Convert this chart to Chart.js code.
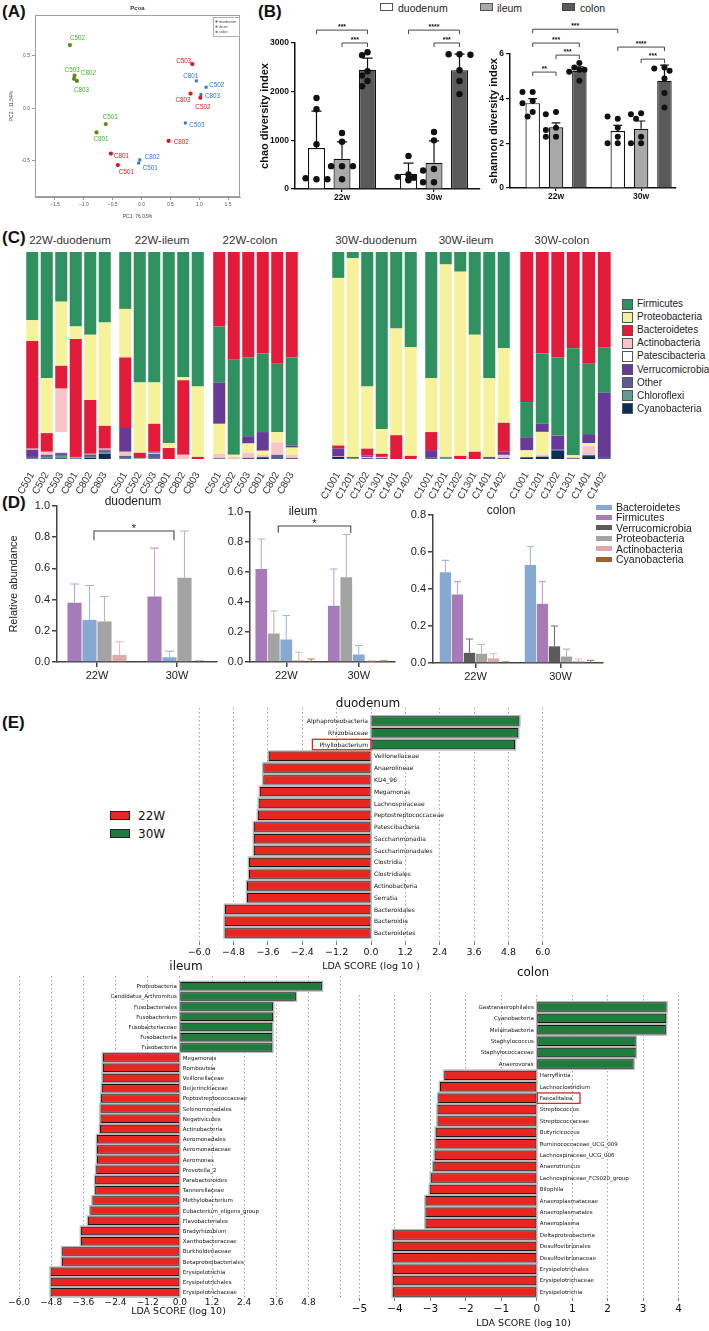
<!DOCTYPE html>
<html><head><meta charset="utf-8">
<script src="https://cdn.jsdelivr.net/npm/chart.js@4.4.1/dist/chart.umd.min.js"></script>
<style>
html,body{margin:0;padding:0;background:#fff;}
body{position:relative;width:709px;height:1331px;overflow:hidden;font-family:"Liberation Sans",Arial,sans-serif;color:#222;}
canvas{position:absolute;}
.t{position:absolute;white-space:nowrap;line-height:1;}
.sw{position:absolute;box-sizing:border-box;}
</style></head><body>
<script>
// ================= DATA =================
// (A) PCoA
const pcoaDuoNames=['C503','C803','C502','C802','C801','C501'];
const pcoaDuoPC1=[0.88,0.85,1.02,0.47,-0.53,-0.41];
const pcoaDuoPC2=[0.42,0.14,0.10,-0.31,-0.43,-0.54];
const pcoaIleNames=['C801','C502','C803','C503','C802','C501'];
const pcoaIlePC1=[0.95,1.12,1.03,0.76,-0.03,-0.05];
const pcoaIlePC2=[0.26,0.20,0.13,-0.14,-0.49,-0.52];
const pcoaColNames=['C502','C503','C803','C802','C501','C801'];
const pcoaColPC1=[-1.24,-1.16,-1.17,-1.12,-0.62,-0.78];
const pcoaColPC2=[0.60,0.31,0.28,0.26,-0.15,-0.23];
const pcoaXTicks=[-1.5,-1.0,-0.5,0.0,0.5,1.0,1.5];
const pcoaYTicks=[-0.5,0.0,0.5];

// (B) alpha diversity
const divGroups=['22w','30w'];
const divTissues=['duodenum','ileum','colon'];
const chaoDuodenum=[840,310], chaoIleum=[620,540], chaoColon=[2450,2440];
const chaoSdDuodenum=[760,220], chaoSdIleum=[350,450], chaoSdColon=[240,330];
const chaoPtsDuodenum=[[1870,1640,920,200,220,200],[680,300,250,230,200,180]];
const chaoPtsIleum=[[1150,970,470,470,470,200],[1170,1000,410,380,140,140]];
const chaoPtsColon=[[2810,2750,2420,2330,2220,2110],[2770,2770,2760,2440,2220,1950]];
const chaoTicks=[0,1000,2000,3000];
const shanDuodenum=[3.8,2.55], shanIleum=[2.72,2.65], shanColon=[5.25,4.8];
const shanSdDuodenum=[0.2,0.25], shanSdIleum=[0.2,0.35], shanSdColon=[0.18,0.7];
const shanPtsDuodenum=[[4.3,4.3,3.9,3.8,3.4,3.2],[3.1,3.2,2.7,2.0,2.0,2.3]];
const shanPtsIleum=[[3.4,3.3,2.7,2.6,2.3,2.3],[3.35,3.3,3.1,2.3,2.0,2.0]];
const shanPtsColon=[[5.6,5.4,5.3,5.2,5.3,4.8],[5.4,5.35,5.25,4.9,4.25,3.6]];
const shanTicks=[0,2,4,6];
const chaoSig=[{ga:0,a:0,gb:0,b:2,y:3265,s:'***'},{ga:0,a:1,gb:0,b:2,y:3000,s:'***'},{ga:1,a:0,gb:1,b:2,y:3265,s:'****'},{ga:1,a:1,gb:1,b:2,y:3000,s:'***'}];
const shanSig=[{ga:0,a:0,gb:1,b:0,y:7.11,s:'***'},{ga:0,a:0,gb:0,b:2,y:6.49,s:'***'},{ga:0,a:1,gb:0,b:2,y:5.95,s:'***'},{ga:0,a:0,gb:0,b:1,y:5.19,s:'**'},{ga:1,a:0,gb:1,b:2,y:6.31,s:'****'},{ga:1,a:1,gb:1,b:2,y:5.77,s:'***'}];

// (C) phylum composition (%), 6 groups x 6 samples
const cGroupNames=['22W-duodenum','22W-ileum','22W-colon','30W-duodenum','30W-ileum','30W-colon'];
const cSamples22=['C501','C502','C503','C801','C802','C803'];
const cSamples30=['C1001','C1201','C1202','C1301','C1401','C1402'];
const firmicutes=[33,61,24,36,40,34, 27.5,63,63,92.3,60.5,65, 27,46,38,38,33,42.5, 12.5,3,65,85.5,37,46, 61,6,9.5,40,61,46.5, 17,34,37.7,51.7,34,22];
const proteobacteria=[10,26.5,31,6,31.5,50, 23.5,34,20,2.4,1.5,34, 14.5,1,4.5,2,5,3.5, 81,96,30,12,51.5,52.5, 26,93,89,56.5,38,36, 3.4,11,0,0.8,1.5,0];
const bacteroidetes=[52,9,11,57,26,11, 34,2.5,13.5,5.3,36,1, 36,52,51,49,54,51, 1.5,0,3.4,1.5,11.5,1.5, 8.7,0,1.5,3.5,0,14, 72.5,49,51,46.5,54,46];
const actinobacteria=[0.5,1.5,21,0.3,0.3,0.5, 2,0.2,0.5,0,2,0, 2,1,2.4,1,6,1.5, 0.2,0,0.5,0.5,0,0, 0,0,0,0,0,1.5, 0,1,0,0.6,4.3,0];
const patescibacteria=[0,0,10,0,0,0, 0,0,0,0,0,0, 0,0,0,0,0,0, 0,0,0,0,0,0, 0,0,0,0,0,0, 0,0,0,0,0,0];
const verrucomicrobia=[3.5,0.5,0.5,0.2,0.2,0.5, 11.5,0,0.5,0,0,0, 20,0,3.5,9,0,1, 3.8,0,0.6,0,0,0, 3.4,0,0,0,0,1.5, 6.3,3.9,6.8,0,4.3,31];
const otherPhyla=[0.5,0.5,1,0.3,1,1, 1,0.2,2,0,0,0, 0.3,0,0.6,0.5,2,0.5, 0,0.5,0.5,0.5,0,0, 0.9,0,0,0,1,0.5, 0,0,0.6,0.4,0.5,1];
const chloroflexi=[0.3,0.7,1.2,0.1,0.5,0.5, 0.3,0.1,0.3,0,0,0, 0.1,0,0,0,0,0, 0,0.5,0,0,0,0, 0,1,0,0,0,0, 0,0,0,0,0,0];
const cyanobacteria=[0.2,0.3,0.3,0.1,0.5,2.5, 0.2,0,0.2,0,0,0, 0.1,0,0,0.5,0,0, 1,0,0,0,0,0, 0,0,0,0,0,0, 0.8,1.1,3.9,0,1.4,0];
const phylumLegend=['Firmicutes','Proteobacteria','Bacteroidetes','Actinobacteria','Patescibacteria','Verrucomicrobia','Other','Chloroflexi','Cyanobacteria'];

// (D) relative abundance
const dGroups=['22W','30W'];
const dDuoFirm=[0.38,0.42], dDuoFirmErr=[0.12,0.31];
const dDuoBact=[0.27,0.03], dDuoBactErr=[0.22,0.04];
const dDuoProt=[0.26,0.54], dDuoProtErr=[0.16,0.30];
const dDuoActi=[0.045,0.005], dDuoActiErr=[0.085,0.005];
const dIleFirm=[0.62,0.375], dIleFirmErr=[0.20,0.245];
const dIleProt=[0.19,0.565], dIleProtErr=[0.15,0.285];
const dIleBact=[0.15,0.05], dIleBactErr=[0.16,0.06];
const dIleActi=[0.012,0.004], dIleActiErr=[0.053,0.004];
const dIleCyan=[0.004,0.003], dIleCyanErr=[0.016,0.005];
const dColBact=[0.49,0.53], dColBactErr=[0.065,0.10];
const dColFirm=[0.37,0.32], dColFirmErr=[0.07,0.12];
const dColVerr=[0.055,0.09], dColVerrErr=[0.075,0.11];
const dColProt=[0.05,0.035], dColProtErr=[0.05,0.04];
const dColActi=[0.025,0.01], dColActiErr=[0.025,0.012];
const dColCyan=[0.004,0.004], dColCyanErr=[0.003,0.01];
const dLegend=['Bacteroidetes','Firmicutes','Verrucomicrobia','Proteobacteria','Actinobacteria','Cyanobacteria'];

// (E) LEfSe LDA scores
const duoLdaNames=['Alphaproteobacteria','Rhizobiaceae','Phyllobacterium','Veillonellaceae','Anaerolineae','KD4_96','Megamonas','Lachnospiraceae','Peptostreptococcaceae','Patescibacteria','Saccharimonadia','Saccharimonadales','Clostridia','Clostridiales','Actinobacteria','Serratia','Bacteroidales','Bacteroidia','Bacteroidetes'];
const duoLdaScores=[5.18,5.14,5.03,-3.57,-3.76,-3.76,-3.88,-3.92,-3.95,-4.09,-4.09,-4.09,-4.26,-4.26,-4.33,-4.33,-5.10,-5.11,-5.11];
const ileLdaNames=['Proteobacteria','Candidatus_Arthromitus','Fusobacteriales','Fusobacterium','Fusobacteriaceae','Fusobacteriia','Fusobacteria','Megamonas','Romboutsia','Veillonellaceae','Beijerinckiaceae','Peptostreptococcaceae','Selenomonadales','Negativicutes','Actinobacteria','Aeromonadales','Aeromonadaceae','Aeromonas','Prevotella_2','Parabacteroides','Tannerellaceae','Methylobacterium','Eubacterium_eligens_group','Flavobacteriales','Bradyrhizobium','Xanthobacteraceae','Burkholderiaceae','Betaproteobacteriales','Erysipelotrichia','Erysipelotrichales','Erysipelotrichaceae'];
const ileLdaScores=[5.30,4.33,3.48,3.48,3.45,3.45,3.45,-2.87,-2.87,-2.88,-2.91,-2.94,-2.96,-2.96,-2.98,-3.09,-3.09,-3.09,-3.12,-3.16,-3.16,-3.26,-3.34,-3.43,-3.69,-3.69,-4.39,-4.40,-4.82,-4.82,-4.82];
const colLdaNames=['Gastranaerophilales','Cyanobacteria','Melainabacteria','Staphylococcus','Staphylococcaceae','Anaerovorax','Harryflintia','Lachnoclostridium','Faecalitalea','Streptococcus','Streptococcaceae','Butyricicoccus','Ruminococcaceae_UCG_009','Lachnospiraceae_UCG_006','Anaerotruncus','Lachnospiraceae_FCS020_group','Bilophila','Anaeroplasmataceae','Anaeroplasmatales','Anaeroplasma','Deltaproteobacteria','Desulfovibrionales','Desulfovibrionaceae','Erysipelotrichales','Erysipelotrichaceae','Erysipelotrichia'];
const colLdaScores=[3.66,3.65,3.64,2.79,2.79,2.73,-2.61,-2.73,-2.78,-2.80,-2.80,-2.85,-2.86,-2.88,-2.92,-2.99,-3.02,-3.14,-3.14,-3.14,-4.06,-4.06,-4.06,-4.06,-4.06,-4.06];
const ldaTicks12=[-6.0,-4.8,-3.6,-2.4,-1.2,0.0,1.2,2.4,3.6,4.8,6.0];
const ldaTicksColon=[-5,-4,-3,-2,-1,0,1,2,3,4];
const ldaClasses=['22W','30W'];

// ================= STYLE / HELPERS =================
const SANS='"Liberation Sans", Arial, sans-serif';
const DEJA='"DejaVu Sans", sans-serif';
Chart.defaults.font.family=SANS;
Chart.defaults.color='#222';
Chart.defaults.animation=false;
Chart.defaults.responsive=false;
Chart.defaults.devicePixelRatio=1;
Chart.defaults.events=[];
Chart.defaults.plugins.legend.display=false;
Chart.defaults.plugins.tooltip.enabled=false;

function mk(L,T,W,H){const c=document.createElement('canvas');c.width=W;c.height=H;c.style.left=L+'px';c.style.top=T+'px';c.style.width=W+'px';c.style.height=H+'px';document.body.appendChild(c);return c;}
const fix=n=>s=>{if(s.isHorizontal())s.height=n;else s.width=n;s.paddingLeft=0;s.paddingRight=0;s.paddingTop=0;s.paddingBottom=0;};
function txt(s,x,y,css,anchor){const d=document.createElement('div');d.className='t';d.textContent=s;const tx=anchor==='l'?'0':anchor==='r'?'-100%':'-50%';d.style.cssText=`left:${x}px;top:${y}px;transform:translate(${tx},-50%);`+(css||'');document.body.appendChild(d);return d;}
function box(x,y,w,h,bg,border){const d=document.createElement('div');d.className='sw';d.style.cssText=`left:${x}px;top:${y}px;width:${w}px;height:${h}px;background:${bg};`+(border?`border:${border};`:'');document.body.appendChild(d);}
function minus(v,d){return (v<-1e-9?'\u2212':'')+Math.abs(v).toFixed(d);}
function setTicks(arr){return s=>{s.ticks=arr.map(v=>({value:v}));};}
function swarm(ys,r){const placed=[];return ys.map(y=>{for(const c of [0,-1,1,-2,2]){const dx=c*r*1.7;if(placed.every(p=>Math.hypot(p.dx-dx,p.y-y)>=r*1.9)){placed.push({dx,y});return dx;}}placed.push({dx:0,y});return 0;});}

// ================= PANEL LETTERS =================
const letterCss='font-weight:bold;font-size:17px;color:#111;';
txt('(A)',2,11,letterCss,'l');
txt('(B)',258,11,letterCss,'l');
txt('(C)',2,237,letterCss,'l');
txt('(D)',2,502,letterCss,'l');
txt('(E)',2,722,letterCss,'l');

// ================= (A) PCoA =================
const pcoaDefs=[
 {label:'duodenum',names:pcoaDuoNames,x:pcoaDuoPC1,y:pcoaDuoPC2,text:'#e3191c',point:'#d51a1c',style:'circle'},
 {label:'ileum',names:pcoaIleNames,x:pcoaIlePC1,y:pcoaIlePC2,text:'#2b78cf',point:'#2b78cf',style:'rect'},
 {label:'colon',names:pcoaColNames,x:pcoaColPC1,y:pcoaColPC2,text:'#3db52a',point:'#5e8a1c',style:'circle'}];
const pcoaLabelOffsets={duodenum:[[-16,-3],[-15,7],[-5,10],[5,1],[3,3],[1,7]],ileum:[[-13,-5],[3,-2],[4,2],[4,2],[5,-3],[4,5]],colon:[[0,-7],[-10,-5],[0,11],[4,-8],[-3,-7],[-3,7]]};
const pcoaPlugin={id:'pcoaX',afterDraw(chart){
 const {ctx,chartArea:a}=chart;ctx.save();
 ctx.strokeStyle='#a0a0a0';ctx.lineWidth=1;ctx.strokeRect(a.left+0.5,a.top+0.5,a.right-a.left-1,a.bottom-a.top-1);
 ctx.font='6.3px '+SANS;ctx.textBaseline='middle';ctx.textAlign='left';
 pcoaDefs.forEach((d,i)=>{const meta=chart.getDatasetMeta(i);ctx.fillStyle=d.text;meta.data.forEach((el,j)=>{const o=pcoaLabelOffsets[d.label][j];ctx.fillText(d.names[j],el.x+o[0],el.y+o[1]);});});
 ctx.fillStyle='#333';ctx.font='bold 6px '+SANS;ctx.textAlign='center';ctx.fillText('Pcoa',(a.left+a.right)/2,8);
 const lx=a.right-27,ly=a.top+2;ctx.fillStyle='#fff';ctx.fillRect(lx,ly,26,19);ctx.strokeStyle='#b0b0b0';ctx.strokeRect(lx+0.5,ly+0.5,26,19);
 ctx.font='3.6px '+SANS;ctx.textAlign='left';
 pcoaDefs.forEach((d,i)=>{ctx.fillStyle=d.point;ctx.beginPath();ctx.arc(lx+3.5,ly+4.5+i*5.2,1.1,0,Math.PI*2);ctx.fill();ctx.fillStyle='#444';ctx.fillText(d.label,lx+6,ly+4.6+i*5.2);});
 ctx.restore();}};
new Chart(mk(0,0,245,225),{type:'scatter',
 data:{datasets:pcoaDefs.map(d=>({label:d.label,data:d.x.map((v,i)=>({x:v,y:d.y[i]})),backgroundColor:d.point,borderColor:d.point,borderWidth:0,pointRadius:2.1,pointStyle:d.style}))},
 options:{layout:{padding:{top:15,right:5}},
  scales:{
   x:{type:'linear',min:-1.846,max:1.707,afterBuildTicks:setTicks(pcoaXTicks),afterFit:fix(28),
      ticks:{font:{size:5},color:'#555',padding:2,callback:v=>minus(v,1)},
      grid:{drawOnChartArea:false,tickLength:3,color:'#999'},border:{color:'#999'},
      title:{display:true,text:'PC1: 76.03%',font:{size:5},color:'#444',padding:{top:0,bottom:5}}},
   y:{type:'linear',min:-0.843,max:0.886,afterBuildTicks:setTicks(pcoaYTicks),afterFit:fix(35),
      ticks:{font:{size:5},color:'#555',padding:2,callback:v=>(v<0?'-':'')+Math.abs(v).toFixed(1)},
      grid:{drawOnChartArea:false,tickLength:3,color:'#999'},border:{color:'#999'},
      title:{display:true,text:'PC2 : 11.54%',font:{size:5},color:'#444',padding:{top:9,bottom:0}}}}},
 plugins:[pcoaPlugin]});

// ================= (B) diversity =================
box(380,3,13,8,'#fff','1.2px solid #555');txt('duodenum',398,7.5,'font-size:10.5px;','l');
box(480,3,13,8,'#a9a9a9','1.2px solid #555');txt('ileum',497,7.5,'font-size:10.5px;','l');
box(562,3,13,8,'#5a5a5a','1.2px solid #444');txt('colon',580,7.5,'font-size:10.5px;','l');
function divChart(cfg){
 const fills=['#ffffff','#a9a9a9','#5a5a5a'];
 const plugin={id:'divx',afterDatasetsDraw(chart){
  const ctx=chart.ctx,ys=chart.scales.y;ctx.save();ctx.strokeStyle='#111';ctx.fillStyle='#111';ctx.lineWidth=1.2;
  cfg.means.forEach((m,i)=>{chart.getDatasetMeta(i).data.forEach((bar,j)=>{
    const yt=ys.getPixelForValue(m[j]+cfg.sds[i][j]);const cw=bar.width*0.3;
    ctx.beginPath();ctx.moveTo(bar.x,bar.y);ctx.lineTo(bar.x,yt);ctx.moveTo(bar.x-cw,yt);ctx.lineTo(bar.x+cw,yt);ctx.stroke();
    const py=cfg.pts[i][j].map(v=>ys.getPixelForValue(v));const dx=swarm(py,cfg.r);
    py.forEach((y,k)=>{ctx.beginPath();ctx.arc(bar.x+dx[k],y,cfg.r,0,Math.PI*2);ctx.fill();});});});
  ctx.font='bold 7px '+SANS;ctx.textAlign='center';ctx.lineWidth=0.9;ctx.strokeStyle='#333';
  cfg.sig.forEach(s=>{const xa=chart.getDatasetMeta(s.a).data[s.ga].x,xb=chart.getDatasetMeta(s.b).data[s.gb].x,y=ys.getPixelForValue(s.y);
    ctx.beginPath();ctx.moveTo(xa,y+4);ctx.lineTo(xa,y);ctx.lineTo(xb,y);ctx.lineTo(xb,y+4);ctx.stroke();ctx.fillText(s.s,(xa+xb)/2,y-1.5);});
  ctx.restore();}};
 new Chart(mk(cfg.L,cfg.T,cfg.W,cfg.H),{type:'bar',
  data:{datasets:divTissues.map((t,i)=>({label:t,data:cfg.means[i].map((v,j)=>({x:j+1,y:v})),backgroundColor:fills[i],borderColor:'#111',borderWidth:1.2,categoryPercentage:cfg.cp,barPercentage:cfg.bp}))},
  options:{layout:{padding:{top:cfg.padTop,right:cfg.padRight}},
   scales:{
    x:{type:'linear',offset:false,min:cfg.xmin,max:cfg.xmax,afterBuildTicks:setTicks([1,2]),afterFit:fix(cfg.xh),
       grid:{offset:false,drawOnChartArea:false,tickLength:3,color:'#111',lineWidth:1.2},border:{color:'#111',width:1.5},
       ticks:{callback:v=>divGroups[v-1],font:{size:8.5,weight:'bold'},color:'#111',padding:1}},
    y:{min:0,max:cfg.ymax,afterBuildTicks:setTicks(cfg.yticks),afterFit:fix(cfg.yw),
       grid:{drawOnChartArea:false,tickLength:4,color:'#111',lineWidth:1.2},border:{color:'#111',width:1.5},
       ticks:{font:{size:8.5,weight:'bold'},color:'#111',padding:2,callback:v=>String(v)},
       title:{display:true,text:cfg.title,font:{size:11,weight:'bold'},color:'#111',padding:{top:cfg.titlePad,bottom:0}}}}},
  plugins:[plugin]});
}
divChart({L:255,T:20,W:230,H:190,padTop:23,padRight:5,yw:40,xh:21,xmin:0.489,xmax:2.5,ymax:3000,yticks:chaoTicks,cp:0.832,bp:0.667,r:3.2,
 means:[chaoDuodenum,chaoIleum,chaoColon],sds:[chaoSdDuodenum,chaoSdIleum,chaoSdColon],pts:[chaoPtsDuodenum,chaoPtsIleum,chaoPtsColon],sig:chaoSig,title:'chao diversity index',titlePad:3.4});
divChart({L:480,T:20,W:200,H:190,padTop:34,padRight:4,yw:30,xh:22,xmin:0.459,xmax:2.41,ymax:6,yticks:shanTicks,cp:0.823,bp:0.62,r:3,
 means:[shanDuodenum,shanIleum,shanColon],sds:[shanSdDuodenum,shanSdIleum,shanSdColon],pts:[shanPtsDuodenum,shanPtsIleum,shanPtsColon],sig:shanSig,title:'shannon diversity index',titlePad:7});

// ================= (C) stacked composition =================
const phylumSeries={Firmicutes:firmicutes,Proteobacteria:proteobacteria,Bacteroidetes:bacteroidetes,Actinobacteria:actinobacteria,Patescibacteria:patescibacteria,Verrucomicrobia:verrucomicrobia,Other:otherPhyla,Chloroflexi:chloroflexi,Cyanobacteria:cyanobacteria};
const phylumColors={Firmicutes:'#2f9160',Proteobacteria:'#f6f19b',Bacteroidetes:'#e31b3a',Actinobacteria:'#f7c4c7',Patescibacteria:'#ffffff',Verrucomicrobia:'#673a97',Other:'#5b5d98',Chloroflexi:'#5f9d94',Cyanobacteria:'#0d2c56'};
const orderDuo=['Firmicutes','Proteobacteria','Bacteroidetes','Actinobacteria','Patescibacteria','Verrucomicrobia','Other','Chloroflexi','Cyanobacteria'];
const orderIle=['Firmicutes','Proteobacteria','Bacteroidetes','Verrucomicrobia','Actinobacteria','Patescibacteria','Other','Chloroflexi','Cyanobacteria'];
const orderCol=['Bacteroidetes','Firmicutes','Verrucomicrobia','Proteobacteria','Actinobacteria','Patescibacteria','Other','Chloroflexi','Cyanobacteria'];
const cOrders=[orderDuo,orderIle,orderCol,orderIle,orderIle,orderCol];
const cBounds=[[24.75,111.75],[117.75,204.75],[211.75,298.75],[330.75,417.75],[423.7,511],[518.5,612]];
const cTitleX=[70,162,250,376,466,562];
cGroupNames.forEach((g,gi)=>{
 const [l,r]=cBounds[gi];
 txt(g,cTitleX[gi],241,'font-size:11.5px;color:#333;');
 const labels=(gi<3?cSamples22:cSamples30);
 new Chart(mk(l-25,250,r-l+30,262),{type:'bar',
  data:{labels,datasets:cOrders[gi].slice().reverse().map(p=>({label:p,data:phylumSeries[p].slice(gi*6,gi*6+6),backgroundColor:phylumColors[p],borderWidth:0,barPercentage:0.83,categoryPercentage:1}))},
  options:{layout:{padding:{left:25,right:5,top:2}},
   scales:{x:{stacked:true,afterFit:fix(53),grid:{display:false},border:{display:false},ticks:{autoSkip:false,minRotation:60,maxRotation:60,font:{size:10},color:'#333',padding:3}},
           y:{stacked:true,display:false,min:0,max:100}}}});
});
phylumLegend.forEach((p,i)=>{const y=304+13.1*i;box(622,y-5.5,11,11,phylumColors[p],'1px solid #555');txt(p,637,y,'font-size:10px;color:#222;','l');});

// ================= (D) relative abundance =================
const dColors={Bacteroidetes:'#86a8d3',Firmicutes:'#a67bb8',Verrucomicrobia:'#5b5b5b',Proteobacteria:'#a3a3a3',Actinobacteria:'#dcaaaa',Cyanobacteria:'#a0622b'};
const dErrColors={Bacteroidetes:'#9dbbe0',Firmicutes:'#c7a0d6',Verrucomicrobia:'#6e6e6e',Proteobacteria:'#b8b8b8',Actinobacteria:'#e6b8b8',Cyanobacteria:'#b88350'};
function dChart(cfg){
 const plugin={id:'dx',afterDatasetsDraw(chart){
  const ctx=chart.ctx,ys=chart.scales.y,xs=chart.scales.x;ctx.save();ctx.lineWidth=1.1;
  cfg.series.forEach((s,i)=>{ctx.strokeStyle=dErrColors[s.name];chart.getDatasetMeta(i).data.forEach((bar,j)=>{
    const yt=ys.getPixelForValue(s.data[j]+s.err[j]);const cw=bar.width*0.32;
    ctx.beginPath();ctx.moveTo(bar.x,bar.y);ctx.lineTo(bar.x,yt);ctx.moveTo(bar.x-cw,yt);ctx.lineTo(bar.x+cw,yt);ctx.stroke();});});
  ctx.strokeStyle='#444';ctx.fillStyle='#222';ctx.font='11px '+SANS;ctx.textAlign='center';
  (cfg.sig||[]).forEach(s=>{const xa=xs.getPixelForValue(s.a)+s.dx,xb=xs.getPixelForValue(s.b)+s.dx,y=ys.getPixelForValue(s.y),y2=ys.getPixelForValue(s.y-s.leg);
    ctx.beginPath();ctx.moveTo(xa,y2);ctx.lineTo(xa,y);ctx.lineTo(xb,y);ctx.lineTo(xb,y2);ctx.stroke();ctx.fillText(s.s,(xa+xb)/2,y+1);});
  ctx.restore();}};
 const yopt={min:0,max:cfg.ymax,afterBuildTicks:setTicks(cfg.yticks),afterFit:fix(cfg.yw),
   grid:{drawOnChartArea:false,tickLength:5,color:'#444',lineWidth:1.5},border:{color:'#444',width:1.5},
   ticks:{font:{size:11},color:'#222',padding:2,callback:v=>v.toFixed(1)}};
 if(cfg.title)yopt.title={display:true,text:cfg.title,font:{size:11},color:'#222',padding:{top:7.4,bottom:0}};
 new Chart(mk(cfg.L,cfg.T,cfg.W,cfg.H),{type:'bar',
  data:{labels:dGroups,datasets:cfg.series.map(s=>({label:s.name,data:s.data,backgroundColor:dColors[s.name],borderWidth:0,categoryPercentage:cfg.cp,barPercentage:0.94}))},
  options:{layout:{padding:{top:cfg.padTop,right:cfg.padRight}},
   scales:{x:{afterFit:fix(cfg.xh),grid:{offset:false,drawOnChartArea:false,tickLength:5,color:'#444',lineWidth:1.5},border:{color:'#444',width:1.5},ticks:{font:{size:11},color:'#222',padding:2}},
           y:yopt}},
  plugins:[plugin]});
}
dChart({L:0,T:495,W:222,H:195,padTop:11,padRight:5,yw:57,xh:28,ymax:1.0,yticks:[0,0.2,0.4,0.6,0.8,1.0],cp:0.75,title:'Relative abundance',
 series:[{name:'Firmicutes',data:dDuoFirm,err:dDuoFirmErr},{name:'Bacteroidetes',data:dDuoBact,err:dDuoBactErr},{name:'Proteobacteria',data:dDuoProt,err:dDuoProtErr},{name:'Actinobacteria',data:dDuoActi,err:dDuoActiErr}],
 sig:[{a:0,b:1,dx:-3,y:0.84,leg:0.06,s:'*'}]});
dChart({L:222,T:495,W:178,H:195,padTop:17,padRight:5,yw:28,xh:28,ymax:1.0,yticks:[0,0.2,0.4,0.6,0.8,1.0],cp:0.86,
 series:[{name:'Firmicutes',data:dIleFirm,err:dIleFirmErr},{name:'Proteobacteria',data:dIleProt,err:dIleProtErr},{name:'Bacteroidetes',data:dIleBact,err:dIleBactErr},{name:'Actinobacteria',data:dIleActi,err:dIleActiErr},{name:'Cyanobacteria',data:dIleCyan,err:dIleCyanErr}],
 sig:[{a:0,b:1,dx:-8,y:0.907,leg:0.045,s:'*'}]});
dChart({L:400,T:495,W:210,H:195,padTop:20,padRight:7,yw:33,xh:27,ymax:0.8,yticks:[0,0.2,0.4,0.6,0.8],cp:0.85,
 series:[{name:'Bacteroidetes',data:dColBact,err:dColBactErr},{name:'Firmicutes',data:dColFirm,err:dColFirmErr},{name:'Verrucomicrobia',data:dColVerr,err:dColVerrErr},{name:'Proteobacteria',data:dColProt,err:dColProtErr},{name:'Actinobacteria',data:dColActi,err:dColActiErr},{name:'Cyanobacteria',data:dColCyan,err:dColCyanErr}]});
txt('duodenum',133,501,'font-size:12px;');
txt('ileum',303,511,'font-size:12px;');
txt('colon',501,510,'font-size:12px;');
dLegend.forEach((p,i)=>{const y=507+10.4*i;box(596,y-2.5,16,5,dColors[p]);txt(p,616,y,'font-size:10.5px;','l');});

// ================= (E) LEfSe =================
const ldaRed='#e8251f',ldaGreen='#1e7d3c';
function ldaChart(cfg){
 const plugin={id:'ldax',
  beforeDatasetsDraw(chart){const ctx=chart.ctx;ctx.save();ctx.fillStyle='#b9b9b9';
   chart.getDatasetMeta(0).data.forEach(el=>{const x0=Math.min(el.x,el.base),w=Math.abs(el.x-el.base);ctx.fillRect(x0-1.3,el.y-el.height/2-1.3,w+2.6,el.height+2.6);});ctx.restore();},
  afterDatasetsDraw(chart){const ctx=chart.ctx,xs=chart.scales.x;const z=xs.getPixelForValue(0);ctx.save();
   ctx.font=cfg.labelFont+'px '+DEJA;ctx.fillStyle='#111';ctx.textBaseline='middle';
   chart.getDatasetMeta(0).data.forEach((el,i)=>{const pos=cfg.scores[i]>0;const tx=pos?z-3:z+3;ctx.textAlign=pos?'right':'left';ctx.fillText(cfg.names[i],tx,el.y+0.5);
    if(cfg.highlight===cfg.names[i]){const w=ctx.measureText(cfg.names[i]).width;ctx.strokeStyle='#d0282e';ctx.lineWidth=1.3;
     const rx=pos?tx-w-7:tx-2.5;ctx.strokeRect(rx,el.y-el.height/2-0.5,w+10,el.height+1);}});
   ctx.restore();}};
 new Chart(mk(cfg.L,cfg.T,cfg.W,cfg.H),{type:'bar',
  data:{labels:cfg.names,datasets:[{label:'LDA',data:cfg.scores.map((v,i)=>({x:v,y:i})),backgroundColor:cfg.scores.map(v=>v>0?ldaGreen:ldaRed),borderColor:'#1a1a1a',borderWidth:1,borderSkipped:false,barPercentage:cfg.bp,categoryPercentage:1}]},
  options:{indexAxis:'y',layout:{padding:cfg.pad},
   scales:{
    x:{type:'linear',min:cfg.xmin,max:cfg.xmax,afterBuildTicks:setTicks(cfg.ticks),afterFit:fix(cfg.xh),
       ticks:{font:{family:DEJA,size:cfg.tickFont},color:'#111',padding:cfg.tickPad,callback:v=>(cfg.hide6&&v>=6)?'':minus(v,cfg.dec)},
       grid:{color:'#9a9a9a',lineWidth:0.9,tickLength:cfg.tickLen,tickColor:'#666'},border:{display:false,dash:[1.5,2.5]},
       title:{display:true,text:cfg.title,font:{family:DEJA,size:9.5},color:'#111',padding:{top:0,bottom:cfg.titlePad}}},
    y:{type:'linear',offset:false,grid:{offset:false},min:cfg.rowMin,max:cfg.rowMax,reverse:true,display:false}}},
  plugins:[plugin]});
}
ldaChart({L:176,T:700,W:388,H:275,pad:{left:6,top:8,right:4},xh:33,xmin:-6.6,xmax:6.6,ticks:ldaTicks12,dec:1,rowMin:-1.1,rowMax:18.76,bp:0.8,
 names:duoLdaNames,scores:duoLdaScores,labelFont:6,tickFont:9.5,tickPad:2,tickLen:3,title:'LDA SCORE (log 10 )',titlePad:2.3,highlight:'Phyllobacterium'});
ldaChart({L:0,T:968,W:350,H:352,pad:{left:11,top:8,right:4},xh:24,xmin:-6.3,xmax:6.2,ticks:ldaTicks12,dec:1,rowMin:-1.0,rowMax:30.37,bp:0.83,hide6:true,
 names:ileLdaNames,scores:ileLdaScores,labelFont:5.5,tickFont:9,tickPad:0,tickLen:1,title:'LDA SCORE (log 10)',titlePad:2.3});
ldaChart({L:350,T:987,W:345,H:344,pad:{left:6,top:8,right:4},xh:33,xmin:-5.1,xmax:4.35,ticks:ldaTicksColon,dec:0,rowMin:-1.05,rowMax:25.53,bp:0.83,
 names:colLdaNames,scores:colLdaScores,labelFont:5.5,tickFont:10.5,tickPad:2,tickLen:3,title:'LDA SCORE (log 10)',titlePad:1.3,highlight:'Faecalitalea'});
txt('duodenum',368,703,'font-family:"DejaVu Sans";font-size:12px;color:#111;');
txt('ileum',186,966,'font-family:"DejaVu Sans";font-size:12px;color:#111;');
txt('colon',533,972,'font-family:"DejaVu Sans";font-size:12px;color:#111;');
box(110,811,20,9,ldaRed,'1px solid #222');txt(ldaClasses[0],138,816,'font-family:"DejaVu Sans";font-size:12px;color:#111;','l');
box(110,829,20,9,ldaGreen,'1px solid #222');txt(ldaClasses[1],138,834,'font-family:"DejaVu Sans";font-size:12px;color:#111;','l');
</script>
</body></html>
